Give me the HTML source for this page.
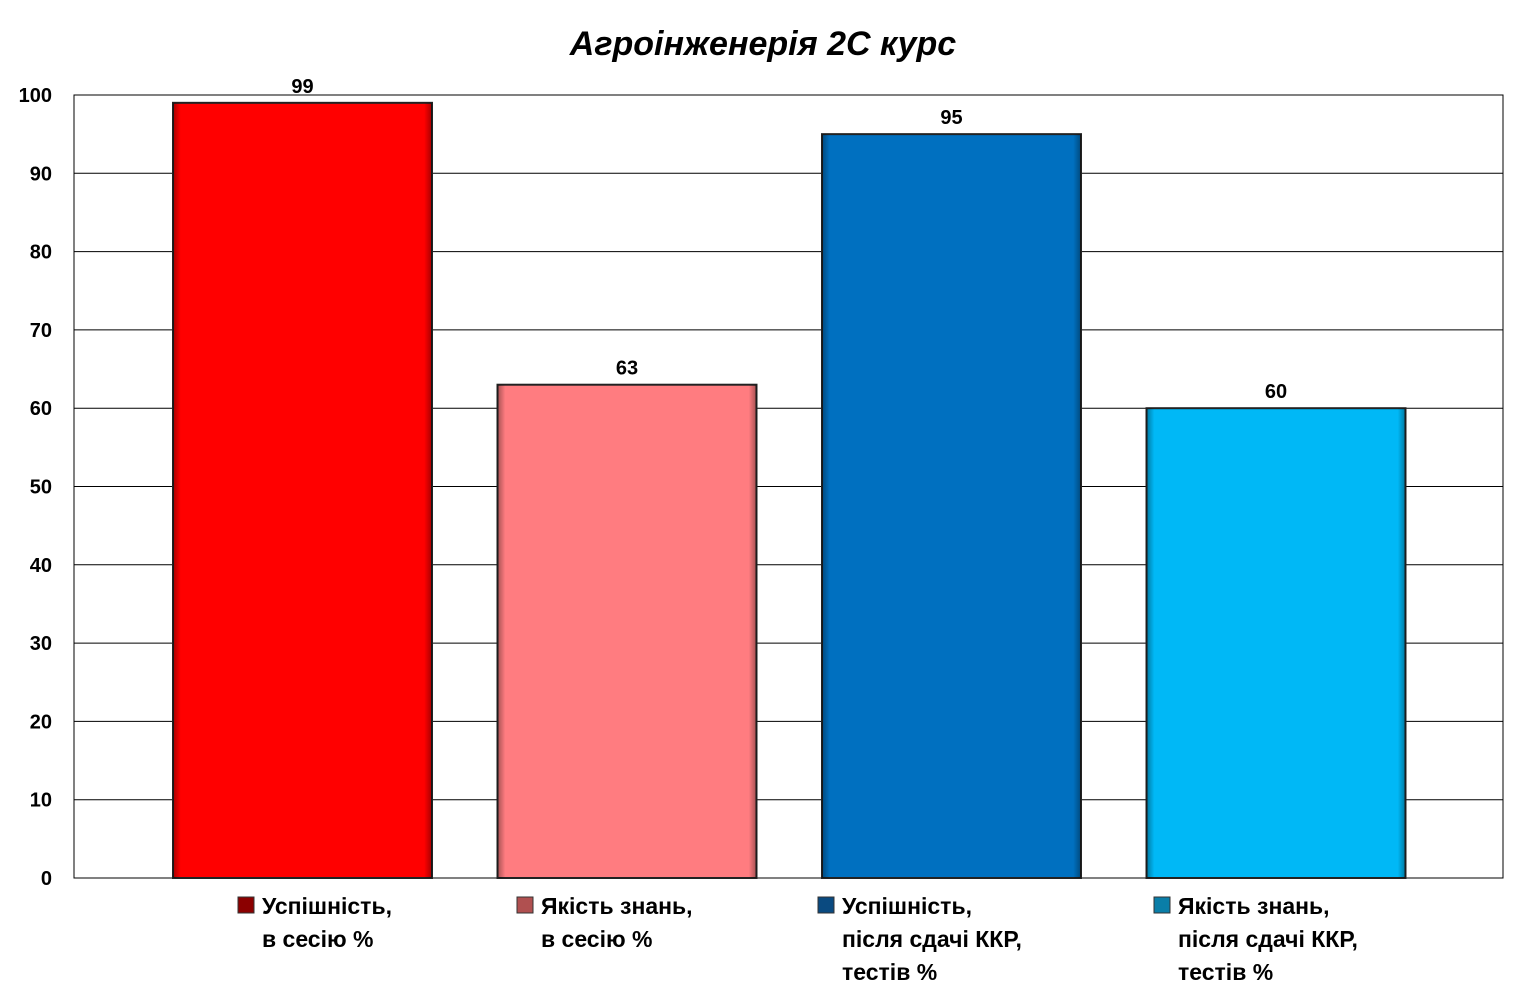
<!DOCTYPE html>
<html><head><meta charset="utf-8"><style>
body{margin:0;background:#fff;}
svg{display:block;font-family:"Liberation Sans",Arial,sans-serif;}
</style></head><body>
<svg id="chart" width="1527" height="997" viewBox="0 0 1527 997">
<defs>
<linearGradient id="edge" x1="0" x2="1"><stop offset="0" stop-color="#000" stop-opacity="0.35"/><stop offset="0.03" stop-color="#000" stop-opacity="0"/><stop offset="0.97" stop-color="#000" stop-opacity="0"/><stop offset="1" stop-color="#000" stop-opacity="0.35"/></linearGradient>
</defs>
<text x="763" y="55" text-anchor="middle" font-size="34" font-weight="bold" font-style="italic">Агроінженерія 2С курс</text>
<g id="grid"></g><g id="bars"></g><g id="legend"></g>
</svg>
<script>
const categories = ["Успішність, в сесію %","Якість знань, в сесію %","Успішність, після сдачі ККР, тестів %","Якість знань, після сдачі ККР, тестів %"];
const values = [99, 63, 95, 60];
const yTicks = [0,10,20,30,40,50,60,70,80,90,100];
const legendLines = [["Успішність,","в сесію %"],["Якість знань,","в сесію %"],["Успішність,","після сдачі ККР,","тестів %"],["Якість знань,","після сдачі ККР,","тестів %"]];
const colors = ["#ff0000","#ff7c80","#0070c0","#00b8f6"];
const markerColors = ["#8b0000","#b05050","#0a4a80","#0a7ea8"];
const legendX = [238, 517, 818, 1154];

const NS="http://www.w3.org/2000/svg";
const L=74,R=1503,T=95,B=878;
const y=v=>B-(v/100)*(B-T);
const x=i=>302.5+i*324.5;
const BW=259;
function mk(tag,attrs,parent,text){const e=document.createElementNS(NS,tag);for(const k in attrs)e.setAttribute(k,attrs[k]);if(text!==undefined)e.textContent=text;parent.appendChild(e);return e;}
const grid=document.getElementById('grid'),bars=document.getElementById('bars'),leg=document.getElementById('legend');
mk('rect',{x:L,y:T,width:R-L,height:B-T,fill:'none',stroke:'#000','stroke-width':1},grid);
yTicks.forEach(t=>{
  const l=mk('line',{x1:L,x2:R,y1:y(t),y2:y(t),stroke:'#000','stroke-width':1},grid);
  
  
  const tx=mk('text',{x:L-22,y:y(t)+7,'text-anchor':'end','font-size':20,'font-weight':'bold'},grid,String(t));
  
  
});
values.forEach((v,i)=>{
  const r=mk('rect',{x:x(i)-BW/2,y:y(v),width:BW,height:B-y(v),fill:colors[i],stroke:'#222','stroke-width':2},bars);
  
  
  mk('rect',{x:x(i)-BW/2,y:y(v),width:BW,height:B-y(v),fill:'url(#edge)'},bars);
  const lb=mk('text',{x:x(i),y:y(v)-10,'text-anchor':'middle','font-size':20,'font-weight':'bold'},bars,String(v));
  
  
});
categories.forEach((c,i)=>{
  const g=mk('g',{},leg);
  
  
  mk('rect',{x:legendX[i],y:897,width:16,height:16,fill:markerColors[i],stroke:'#333','stroke-width':1},g);
  legendLines[i].forEach((ln,j)=>{
    mk('text',{x:legendX[i]+24,y:914+j*33,'font-size':23,'font-weight':'bold'},g,ln);
  });
});
</script>
</body></html>
